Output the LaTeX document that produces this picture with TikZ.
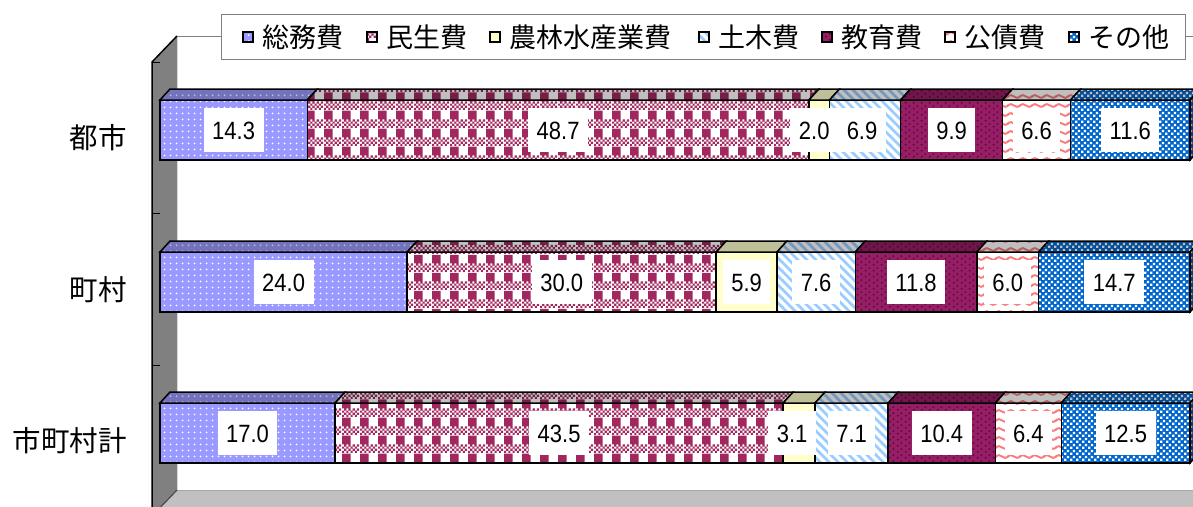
\documentclass[tikz,border=0pt]{standalone}
\usepackage{fontspec}
\setmainfont{Noto Sans CJK JP}
\newfontfamily\numfont[FakeStretch=0.88]{Liberation Sans}
\usetikzlibrary{patterns, positioning}

\definecolor{somu}{RGB}{153,153,255}
\definecolor{minsei}{RGB}{160,40,95}
\definecolor{nourin}{RGB}{255,255,204}
\definecolor{doboku}{RGB}{153,204,255}
\definecolor{kyoiku}{RGB}{150,30,100}
\definecolor{kyodot}{RGB}{105,10,70}
\definecolor{kosai}{RGB}{250,125,125}
\definecolor{sonota}{RGB}{0,102,204}
\definecolor{wallgray}{RGB}{128,128,128}
\definecolor{floorgray}{RGB}{192,192,192}

% patterns of the seven items
\pgfdeclarepatternformonly{sodots}{\pgfpointorigin}{\pgfqpoint{6pt}{6pt}}{\pgfqpoint{6pt}{6pt}}{%
  \pgfpathcircle{\pgfqpoint{3pt}{3pt}}{1.1pt}\pgfusepath{fill}}
\pgfdeclarepatternformonly{plaid}{\pgfpointorigin}{\pgfqpoint{18pt}{18pt}}{\pgfqpoint{18pt}{18pt}}{%
  \pgfpathrectangle{\pgfqpoint{0pt}{9pt}}{\pgfqpoint{9pt}{9pt}}%
  \pgfpathrectangle{\pgfqpoint{0pt}{0pt}}{\pgfqpoint{2.25pt}{2.25pt}}%
  \pgfpathrectangle{\pgfqpoint{4.5pt}{0pt}}{\pgfqpoint{2.25pt}{2.25pt}}%
  \pgfpathrectangle{\pgfqpoint{9pt}{0pt}}{\pgfqpoint{2.25pt}{2.25pt}}%
  \pgfpathrectangle{\pgfqpoint{13.5pt}{0pt}}{\pgfqpoint{2.25pt}{2.25pt}}%
  \pgfpathrectangle{\pgfqpoint{2.25pt}{2.25pt}}{\pgfqpoint{2.25pt}{2.25pt}}%
  \pgfpathrectangle{\pgfqpoint{6.75pt}{2.25pt}}{\pgfqpoint{2.25pt}{2.25pt}}%
  \pgfpathrectangle{\pgfqpoint{11.25pt}{2.25pt}}{\pgfqpoint{2.25pt}{2.25pt}}%
  \pgfpathrectangle{\pgfqpoint{15.75pt}{2.25pt}}{\pgfqpoint{2.25pt}{2.25pt}}%
  \pgfpathrectangle{\pgfqpoint{0pt}{4.5pt}}{\pgfqpoint{2.25pt}{2.25pt}}%
  \pgfpathrectangle{\pgfqpoint{4.5pt}{4.5pt}}{\pgfqpoint{2.25pt}{2.25pt}}%
  \pgfpathrectangle{\pgfqpoint{9pt}{4.5pt}}{\pgfqpoint{2.25pt}{2.25pt}}%
  \pgfpathrectangle{\pgfqpoint{13.5pt}{4.5pt}}{\pgfqpoint{2.25pt}{2.25pt}}%
  \pgfpathrectangle{\pgfqpoint{2.25pt}{6.75pt}}{\pgfqpoint{2.25pt}{2.25pt}}%
  \pgfpathrectangle{\pgfqpoint{6.75pt}{6.75pt}}{\pgfqpoint{2.25pt}{2.25pt}}%
  \pgfpathrectangle{\pgfqpoint{11.25pt}{6.75pt}}{\pgfqpoint{2.25pt}{2.25pt}}%
  \pgfpathrectangle{\pgfqpoint{15.75pt}{6.75pt}}{\pgfqpoint{2.25pt}{2.25pt}}%
  \pgfusepath{fill}}
\pgfdeclarepatternformonly{dbstripe}{\pgfqpoint{-1pt}{-1pt}}{\pgfqpoint{10pt}{10pt}}{\pgfqpoint{9pt}{9pt}}{%
  \pgfsetlinewidth{2.6pt}\pgfpathmoveto{\pgfqpoint{-1pt}{10pt}}\pgfpathlineto{\pgfqpoint{10pt}{-1pt}}\pgfusepath{stroke}}
\pgfdeclarepatternformonly{kydots}{\pgfpointorigin}{\pgfqpoint{8pt}{6pt}}{\pgfqpoint{8pt}{6pt}}{%
  \pgfpathcircle{\pgfqpoint{2pt}{1.5pt}}{1.3pt}\pgfpathcircle{\pgfqpoint{6pt}{4.5pt}}{1.3pt}\pgfusepath{fill}}
\pgfdeclarepatternformonly{kswave}{\pgfqpoint{-1pt}{0pt}}{\pgfqpoint{13pt}{9pt}}{\pgfqpoint{12pt}{9pt}}{%
  \pgfsetlinewidth{1.9pt}\pgfpathmoveto{\pgfqpoint{-1pt}{3.5pt}}%
  \pgfpathcurveto{\pgfqpoint{1.5pt}{6.5pt}}{\pgfqpoint{4.5pt}{6.5pt}}{\pgfqpoint{6pt}{4.5pt}}%
  \pgfpathcurveto{\pgfqpoint{7.5pt}{2.5pt}}{\pgfqpoint{10.5pt}{2.5pt}}{\pgfqpoint{13pt}{5.5pt}}\pgfusepath{stroke}}
\pgfdeclarepatternformonly{stcheck}{\pgfpointorigin}{\pgfqpoint{5.6pt}{5.6pt}}{\pgfqpoint{5.6pt}{5.6pt}}{%
  \pgfpathrectangle{\pgfqpoint{0.2pt}{0.2pt}}{\pgfqpoint{2.4pt}{2.4pt}}%
  \pgfpathrectangle{\pgfqpoint{3pt}{3pt}}{\pgfqpoint{2.4pt}{2.4pt}}\pgfusepath{fill}}

\tikzset{
  seg1/.style={preaction={fill=somu}, pattern=sodots, pattern color=white},
  seg2/.style={preaction={fill=white}, pattern=plaid, pattern color=minsei},
  seg3/.style={fill=nourin},
  seg4/.style={preaction={fill=white}, pattern=dbstripe, pattern color=doboku},
  seg5/.style={preaction={fill=kyoiku}, pattern=kydots, pattern color=kyodot},
  seg6/.style={preaction={fill=white}, pattern=kswave, pattern color=kosai},
  seg7/.style={preaction={fill=sonota}, pattern=stcheck, pattern color=white},
  outline/.style={draw=black, line width=1.5pt},
  darker/.style={fill=black, fill opacity=#1},
  value/.style={fill=white, inner xsep=8.5pt, inner ysep=13pt, text height=18pt, text depth=0pt,
    font=\numfont\fontsize{25}{25}\selectfont},
  catlabel/.style={anchor=east, inner sep=0pt, font=\fontsize{28.5}{28.5}\selectfont},
  legmark/.style={draw=black, line width=1.8pt, minimum size=10pt, inner sep=0pt},
  legtext/.style={inner sep=0pt, font=\fontsize{27}{27}\selectfont}
}

\begin{document}
\begin{tikzpicture}[x=1pt, y=-1pt]
	\useasboundingbox (0,0) rectangle (1193,506);
	\clip (0,0) rectangle (1193,506);
	
	% walls and floor
	\fill [wallgray] (152,62) -- (177,36) -- (177,490) -- (152,516) -- cycle;
	\fill [floorgray] (152,516) -- (177,490) -- (1193,490) -- (1193,516) -- cycle;
	\draw [wallgray, line width=1pt] (177,36) -- (1193,36);
	\draw [wallgray!70, line width=1pt] (177,490) -- (1193,490);
	\draw [floorgray!60, line width=1pt] (177,36) -- (177,490);
	\draw [black, line width=1.5pt] (152,516) -- (152,62) -- (177,36);
	\draw [black!70, line width=1.2pt] (152,516) -- (177,490);
	\foreach \t in {62,213.5,365}
		\draw [black, line width=1pt] (152,\t) -- (160,\t);
	
	% bars
	\foreach \bn/\lab/\top/\vals in {
		toshi/都市/100/{14.3/0,48.7/0,2.0/-5,6.9/-3,9.9/0,6.6/0,11.6/0},
		choson/町村/252/{24.0/0,30.0/0,5.9/0,7.6/0,11.8/0,6.0/0,14.7/0},
		kei/市町村計/403/{17.0/0,43.5/0,3.1/-7,7.1/0,10.4/0,6.4/0,12.5/0}} {
		\node [catlabel] (\bn) at (127,\top+37.5) {\lab};
		\foreach \v/\dx [count=\i, remember=\xb as \xa (initially 160), evaluate=\v as \xb using \xa+10.3*\v] in \vals {
			\path [seg\i, postaction={outline}] (\xa,\top) rectangle (\xb,\top+60);
			\path [seg\i, postaction={darker=0.25}, postaction={outline}]
				(\xa,\top) -- (\xa+10,\top-11) -- (\xb+10,\top-11) -- (\xb,\top) -- cycle;
			\ifnum\i=7
				\path [seg\i, postaction={darker=0.4}, postaction={outline}]
					(\xb,\top) -- (\xb+10,\top-11) -- (\xb+10,\top+49) -- (\xb,\top+60) -- cycle;
			\fi
		}
		\foreach \v/\dx [count=\i, remember=\xb as \xa (initially 160), evaluate=\v as \xb using \xa+10.3*\v] in \vals
			\node [value] (\bn-\i) at ({(\xa+\xb)/2+\dx},\top+30) {\v};
	}
	
	% legend
	\node [draw=wallgray, line width=1pt, fill=white, anchor=north west, minimum width=964pt, minimum height=45pt] (legend) at (221,14) {};
	\foreach \x/\txt [count=\i] in {248/総務費, 372/民生費, 495/農林水産業費, 704/土木費, 827/教育費, 950/公債費, 1074/その他} {
		\node [legmark, seg\i] (m\i) at (\x,37) {};
		\node [legtext, right=8pt of m\i] (t\i) {\txt};
	}
\end{tikzpicture}
\end{document}
